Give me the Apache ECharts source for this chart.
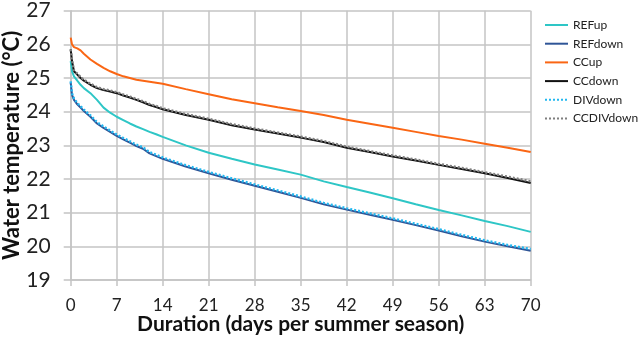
<!DOCTYPE html>
<html>
<head>
<meta charset="utf-8">
<script src="https://cdn.jsdelivr.net/npm/echarts@6/dist/echarts.min.js"></script>
<style>
  html, body { margin: 0; padding: 0; background: #fff; }
  #chart { width: 640px; height: 339px; }
</style>
</head>
<body>
<div id="chart"></div>
<script>
// Days since the start of the summer season
const days = [0, 0.2, 0.5, 1, 1.5, 2, 3, 4, 5, 6, 7, 8, 9, 10, 11, 12, 13, 14,
  17.5, 21, 24.5, 28, 31.5, 35, 38.5, 42, 45.5, 49, 52.5, 56, 59.5, 63, 66.5, 70];

// Water temperature (°C) per scenario
const refUp = [25.5, 25.2, 25.05, 24.92, 24.8, 24.7, 24.55, 24.35, 24.12, 23.97, 23.85, 23.75, 23.65, 23.56, 23.48, 23.4, 23.33, 23.25,
  23.0, 22.78, 22.6, 22.43, 22.28, 22.13, 21.93, 21.76, 21.6, 21.43, 21.25, 21.08, 20.92, 20.75, 20.6, 20.43];
const refDown = [24.86, 24.5, 24.35, 24.22, 24.12, 24.02, 23.85, 23.65, 23.52, 23.4, 23.28, 23.18, 23.08, 22.98, 22.9, 22.76, 22.68, 22.6,
  22.37, 22.17, 21.98, 21.8, 21.62, 21.44, 21.25, 21.09, 20.94, 20.79, 20.63, 20.47, 20.3, 20.14, 20.0, 19.87];
const ccUp = [26.2, 26.0, 25.92, 25.88, 25.82, 25.72, 25.55, 25.42, 25.3, 25.2, 25.12, 25.05, 25.0, 24.95, 24.92, 24.89, 24.86, 24.83,
  24.67, 24.52, 24.37, 24.25, 24.13, 24.02, 23.9, 23.76, 23.64, 23.52, 23.4, 23.28, 23.17, 23.05, 22.93, 22.8];
const ccDown = [25.85, 25.5, 25.2, 25.1, 25.0, 24.92, 24.8, 24.7, 24.64, 24.6, 24.55, 24.48, 24.42, 24.35, 24.28, 24.2, 24.14, 24.07,
  23.9, 23.76, 23.6, 23.47, 23.35, 23.23, 23.1, 22.93, 22.8, 22.67, 22.55, 22.42, 22.3, 22.17, 22.03, 21.88];
const divDown = [24.9, 24.54, 24.39, 24.26, 24.16, 24.06, 23.89, 23.69, 23.56, 23.44, 23.32, 23.22, 23.12, 23.02, 22.94, 22.8, 22.72, 22.64,
  22.41, 22.21, 22.02, 21.84, 21.66, 21.48, 21.29, 21.13, 20.98, 20.83, 20.67, 20.51, 20.34, 20.18, 20.04, 19.92];
const ccDivDown = [25.85, 25.52, 25.23, 25.13, 25.03, 24.95, 24.83, 24.73, 24.67, 24.63, 24.58, 24.51, 24.45, 24.38, 24.31, 24.23, 24.17, 24.1,
  23.93, 23.79, 23.63, 23.5, 23.38, 23.26, 23.13, 22.96, 22.83, 22.7, 22.58, 22.45, 22.33, 22.2, 22.07, 21.93];

// Axis ticks
const xTicks = [0, 7, 14, 21, 28, 35, 42, 49, 56, 63, 70];
const yTicks = [19, 20, 21, 22, 23, 24, 25, 26, 27];

const FONT = 'Lato, "Open Sans", "Noto Sans", sans-serif';
const GRID = '#c4c4c4';

function pairs(values) {
  return days.map((d, i) => [d, values[i]]);
}

function lineSeries(name, values, color, dash) {
  return {
    name: name,
    type: 'line',
    data: pairs(values),
    symbol: 'none',
    smooth: false,
    lineStyle: { color: color, width: dash ? 2.4 : 2, type: dash ? [2, 2] : 'solid' },
    itemStyle: { color: color },
    emphasis: { disabled: true },
    z: dash ? 3 : 2
  };
}

const chart = echarts.init(document.getElementById('chart'), null, { renderer: 'canvas' });

chart.setOption({
  animation: false,
  backgroundColor: '#ffffff',
  textStyle: { fontFamily: FONT },
  grid: { left: 70.7, right: 109.3, top: 10.7, bottom: 59, containLabel: false, outerBoundsMode: 'none' },
  legend: {
    orient: 'vertical',
    left: 539,
    top: 14,
    itemWidth: 23,
    itemHeight: 14,
    itemGap: 6.7,
    itemStyle: { opacity: 0 },
    textStyle: { fontFamily: FONT, fontSize: 12, color: '#222' },
    data: ['REFup', 'REFdown', 'CCup', 'CCdown', 'DIVdown', 'CCDIVdown']
  },
  xAxis: {
    type: 'value',
    min: xTicks[0],
    max: xTicks[xTicks.length - 1],
    interval: 7,
    name: 'Duration (days per summer season)',
    nameLocation: 'middle',
    nameGap: 34,
    nameMoveOverlap: false,
    nameTextStyle: { fontFamily: FONT, fontSize: 21, fontWeight: 'bold', color: '#111' },
    axisLine: { show: true, lineStyle: { color: GRID, width: 1.5 } },
    axisTick: { show: true, length: 6, lineStyle: { color: GRID, width: 1.5 } },
    axisLabel: { margin: 17, fontFamily: FONT, fontSize: 17, color: '#222' },
    splitLine: { show: true, lineStyle: { color: GRID, width: 1.5 } }
  },
  yAxis: {
    type: 'value',
    min: yTicks[0],
    max: yTicks[yTicks.length - 1],
    interval: 1,
    name: 'Water temperature (°C)',
    nameLocation: 'middle',
    nameGap: 48,
    nameRotate: 90,
    nameMoveOverlap: false,
    nameTextStyle: { fontFamily: FONT, fontSize: 22, fontWeight: 'bold', color: '#111' },
    axisLine: { show: true, lineStyle: { color: GRID, width: 1.5 } },
    axisTick: { show: true, length: 7, lineStyle: { color: GRID, width: 1.5 } },
    axisLabel: { margin: 20, fontFamily: FONT, fontSize: 21, color: '#222' },
    splitLine: { show: true, lineStyle: { color: GRID, width: 1.5 } }
  },
  series: [
    lineSeries('REFup', refUp, '#2ec6c6', false),
    lineSeries('REFdown', refDown, '#2f5597', false),
    lineSeries('CCup', ccUp, '#fa6614', false),
    lineSeries('CCdown', ccDown, '#111111', false),
    lineSeries('DIVdown', divDown, '#22b8f0', true),
    lineSeries('CCDIVdown', ccDivDown, '#7f7f7f', true)
  ]
});
</script>
</body>
</html>
